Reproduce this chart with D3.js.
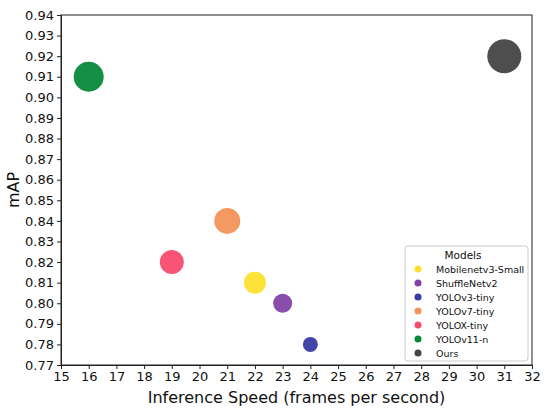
<!DOCTYPE html>
<html>
<head>
<meta charset="utf-8">
<script src="https://cdn.jsdelivr.net/npm/d3@7"></script>
<style>
  body { margin: 0; background: #fff; }
  svg { font-family: "DejaVu Sans", sans-serif; }
</style>
</head>
<body>
<svg></svg>
<script>
// data
let models = ["Mobilenetv3-Small", "ShuffleNetv2", "YOLOv3-tiny", "YOLOv7-tiny", "YOLOX-tiny", "YOLOv11-n", "Ours"];
let speeds = [22, 23, 24, 21, 19, 16, 31];
let maps = [0.81, 0.80, 0.78, 0.84, 0.82, 0.91, 0.92];
let sizes = [11, 9.5, 7.5, 13, 12, 15, 17];
let colors = ["#fde02f", "#8443a6", "#3a3aa6", "#f3935a", "#f84b6e", "#08893a", "#454545"];
let xTicks = d3.range(15, 33, 1);
let yTicks = d3.range(0.77, 0.9401, 0.01);

let width = 550;
let height = 415;
let plotLeft = 61, plotRight = 532, plotTop = 15, plotBottom = 365;

let svg = d3.select("svg").attr("width", width).attr("height", height);

let xScale = d3.scaleLinear().domain([15, 32]).range([plotLeft, plotRight]);
let yScale = d3.scaleLinear().domain([0.77, 0.94]).range([plotBottom, plotTop]);

// frame
svg.append("rect")
  .attr("x", plotLeft).attr("y", plotTop)
  .attr("width", plotRight - plotLeft).attr("height", plotBottom - plotTop)
  .attr("fill", "none").attr("stroke", "#222").attr("stroke-width", 1);

// points
let points = models.map((m, i) => ({ name: m, x: speeds[i], y: maps[i], r: sizes[i], c: colors[i] }));
svg.selectAll("circle.dot")
  .data(points)
  .enter()
  .append("circle")
  .attr("class", "dot")
  .attr("cx", (d) => xScale(d.x))
  .attr("cy", (d) => yScale(d.y))
  .attr("r", (d) => d.r)
  .attr("fill", (d) => d.c)
  .attr("fill-opacity", 0.95);

// axes
let xAxis = d3.axisBottom(xScale).tickValues(xTicks).tickFormat(d3.format("d")).tickSize(4).tickPadding(3);
let yAxis = d3.axisLeft(yScale).tickValues(yTicks).tickFormat(d3.format(".2f")).tickSize(4).tickPadding(3);

let gx = svg.append("g").attr("transform", "translate(0," + plotBottom + ")").call(xAxis);
let gy = svg.append("g").attr("transform", "translate(" + plotLeft + ",0)").call(yAxis);
[gx, gy].forEach((g) => {
  g.select(".domain").attr("stroke", "#222");
  g.selectAll(".tick line").attr("stroke", "#222");
  g.selectAll(".tick text").attr("font-size", 13).attr("fill", "#111").attr("font-family", "DejaVu Sans");
});

// axis labels
svg.append("text")
  .attr("x", (plotLeft + plotRight) / 2).attr("y", 403)
  .attr("text-anchor", "middle").attr("font-size", 16).attr("fill", "#111")
  .text("Inference Speed (frames per second)");

svg.append("text")
  .attr("transform", "translate(19," + 190 + ") rotate(-90)")
  .attr("text-anchor", "middle").attr("font-size", 16).attr("fill", "#111")
  .text("mAP");

// legend
let lg = svg.append("g").attr("transform", "translate(405,246)");
lg.append("rect")
  .attr("width", 123).attr("height", 115).attr("rx", 3)
  .attr("fill", "#fff").attr("fill-opacity", 0.85)
  .attr("stroke", "#ccc");
lg.append("text")
  .attr("x", 58).attr("y", 13)
  .attr("text-anchor", "middle").attr("font-size", 10.5).attr("fill", "#111")
  .text("Models");
let items = lg.selectAll("g.item")
  .data(points)
  .enter()
  .append("g")
  .attr("class", "item")
  .attr("transform", (d, i) => "translate(0," + (23 + i * 14) + ")");
items.append("circle").attr("cx", 13).attr("cy", 0).attr("r", 3.5).attr("fill", (d) => d.c);
items.append("text")
  .attr("x", 31).attr("y", 3.5)
  .attr("font-size", 9.5).attr("fill", "#111")
  .text((d) => d.name);
</script>
</body>
</html>
